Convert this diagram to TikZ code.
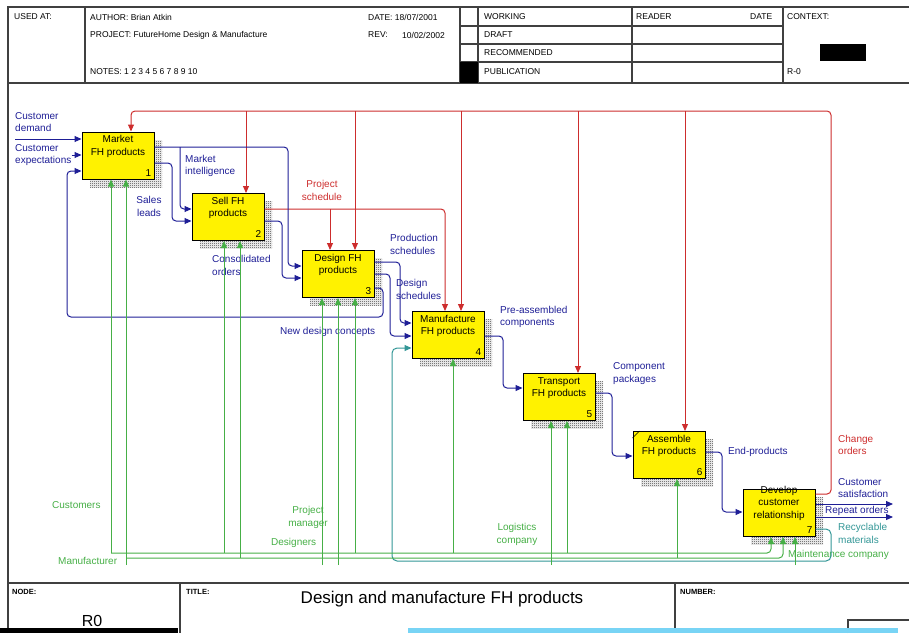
\documentclass[tikz,border=0pt]{standalone}
\usepackage{fontspec}
\setmainfont{Liberation Sans}
\usetikzlibrary{arrows.meta,positioning,patterns,shadows}
\definecolor{idefblue}{RGB}{30,30,150}
\definecolor{idefred}{RGB}{205,45,45}
\definecolor{idefgreen}{RGB}{70,175,70}
\definecolor{idefteal}{RGB}{50,150,150}
\definecolor{barblue}{RGB}{120,212,245}
\newcommand\lblfont{\fontsize{10}{12.5}\selectfont}
\newcommand\hdrfont{\fontsize{8.5}{10}\selectfont}
\pgfdeclarepatternformonly{fnhatch}{\pgfpointorigin}{\pgfpoint{2pt}{2pt}}{\pgfpoint{2pt}{2pt}}{%
  \pgfpathrectangle{\pgfpointorigin}{\pgfpoint{1pt}{1pt}}%
  \pgfpathrectangle{\pgfpoint{1pt}{1pt}}{\pgfpoint{1pt}{1pt}}%
  \pgfusepath{fill}}

\begin{document}
\begin{tikzpicture}[x=1pt,y=-1pt,
  frame/.style={draw=black!75,line width=1.2pt},
  fn/.style={draw,fill=yellow,line width=1pt,minimum width=72pt,minimum height=47pt,inner sep=0pt,
    general shadow={pattern=fnhatch,pattern color=black!80,shadow xshift=8pt,shadow yshift=-8pt}},
  fntxt/.style={align=center,inner sep=1pt,font=\lblfont},
  fnno/.style={inner sep=1pt,font=\lblfont},
  tip/.style={-{Triangle[length=7pt,width=6pt]}},
  flow/.style={tip,draw=idefblue,line width=1pt,rounded corners=4pt},
  ctl/.style={tip,draw=idefred,line width=1pt,rounded corners=4pt},
  mech/.style={tip,draw=idefgreen,line width=1pt,rounded corners=4pt},
  recyc/.style={tip,draw=idefteal,line width=1pt,rounded corners=5pt},
  lbl/.style={font=\lblfont,inner sep=0pt,anchor=west,align=left},
  hdr/.style={font=\hdrfont,inner sep=0pt,anchor=west}]
\useasboundingbox (0,0) rectangle (909,633);

\draw[frame] (8,633) -- (8,7) -- (909,7);
\draw[frame] (8,83) -- (909,83);
\draw[frame] (85,7) -- (85,83);
\draw[frame] (460,7) -- (460,83);
\draw[frame] (478,7) -- (478,83);
\draw[frame] (632,7) -- (632,83);
\draw[frame] (783,7) -- (783,83);
\draw[frame] (460,26) -- (783,26);
\draw[frame] (460,44) -- (783,44);
\draw[frame] (460,62) -- (783,62);
\fill (460,62) rectangle (478,83);
\fill (820,44) rectangle (866,61);
\node[hdr] at (14,17) {USED AT:};
\node[hdr] at (90,17) {AUTHOR: Brian Atkin};
\node[hdr] at (90,35) {PROJECT: FutureHome Design \& Manufacture};
\node[hdr] at (90,72) {NOTES: 1 2 3 4 5 6 7 8 9 10};
\node[hdr] at (368,17) {DATE: 18/07/2001};
\node[hdr] at (368,35) {REV:};
\node[hdr] at (402,35) {10/02/2002};
\node[hdr] at (484,17) {WORKING};
\node[hdr] at (484,35) {DRAFT};
\node[hdr] at (484,53) {RECOMMENDED};
\node[hdr] at (484,72) {PUBLICATION};
\node[hdr] at (636,17) {READER};
\node[hdr] at (750,17) {DATE};
\node[hdr] at (787,17) {CONTEXT:};
\node[hdr] at (787,72) {R-0};

\draw[frame] (8,583) -- (909,583);
\draw[frame] (180,583) -- (180,633);
\draw[frame] (675,583) -- (675,633);
\draw[frame] (848,633) -- (848,620) -- (909,620);
\node[hdr,font=\fontsize{7.5}{9}\selectfont\bfseries] at (12,592) {NODE:};
\node[hdr,font=\fontsize{7.5}{9}\selectfont\bfseries] at (186,592) {TITLE:};
\node[hdr,font=\fontsize{7.5}{9}\selectfont\bfseries] at (680,592) {NUMBER:};
\node[inner sep=0pt,font=\fontsize{16}{18}\selectfont] at (92,621) {R0};
\node[inner sep=0pt,font=\fontsize{17}{20}\selectfont] at (442,599) {Design and manufacture FH products};
\fill (0,628) rectangle (178,633);
\fill[barblue] (408,628) rectangle (898,633);

\node[fn] (mkt) at (118,155.5) {};
\node[fntxt,below=3pt of mkt.north] {Market\\FH products};
\node[fnno,above left=2pt and 2pt of mkt.south east] {1};
\node[fn] (sell) at (228,217) {};
\node[fntxt,below=3pt of sell.north] {Sell FH\\products};
\node[fnno,above left=2pt and 2pt of sell.south east] {2};
\node[fn] (design) at (338,274) {};
\node[fntxt,below=3pt of design.north] {Design FH\\products};
\node[fnno,above left=2pt and 2pt of design.south east] {3};
\node[fn] (manuf) at (448,335) {};
\node[fntxt,below=3pt of manuf.north] {Manufacture\\FH products};
\node[fnno,above left=2pt and 2pt of manuf.south east] {4};
\node[fn] (transp) at (559,397) {};
\node[fntxt,below=3pt of transp.north] {Transport\\FH products};
\node[fnno,above left=2pt and 2pt of transp.south east] {5};
\node[fn] (assem) at (669,455) {};
\node[fntxt,below=3pt of assem.north] {Assemble\\FH products};
\node[fnno,above left=2pt and 2pt of assem.south east] {6};
\draw (assem.north west) ++(0,7) -- ++(7,-7);
\node[fn] (devcr) at (779,513) {};
\node[fntxt,below=-4pt of devcr.north] {Develop\\customer\\relationship};
\node[fnno,above left=2pt and 2pt of devcr.south east] {7};

\node[lbl,text=idefblue] (cdem) at (15,122) {Customer\\demand};
\node[lbl,text=idefblue] (cexp) at (15,155) {Customer\\expectations};
\node[lbl,text=idefblue] at (185,166) {Market\\intelligence};
\node[lbl,text=idefblue,anchor=center,align=center] at (149,206.5) {Sales\\leads};
\node[lbl,text=idefred,anchor=center,align=center] at (322,190.5) {Project\\schedule};
\node[lbl,text=idefblue] at (212,265.5) {Consolidated\\orders};
\node[lbl,text=idefblue] at (390,244.5) {Production\\schedules};
\node[lbl,text=idefblue] at (396,289.5) {Design\\schedules};
\node[lbl,text=idefblue] at (280,332) {New design concepts};
\node[lbl,text=idefblue] at (500,317) {Pre-assembled\\components};
\node[lbl,text=idefblue] at (613,373.5) {Component\\packages};
\node[lbl,text=idefblue] at (728,452) {End-products};
\node[lbl,text=idefred] at (838,445) {Change\\orders};
\node[lbl,text=idefblue] at (838,488) {Customer\\satisfaction};
\node[lbl,text=idefblue] at (825,510.5) {Repeat orders};
\node[lbl,text=idefteal] at (838,533.5) {Recyclable\\materials};
\node[lbl,text=idefgreen] at (788,555) {Maintenance company};
\node[lbl,text=idefgreen,anchor=center,align=center] at (517,534.5) {Logistics\\company};
\node[lbl,text=idefgreen] at (52,505) {Customers};
\node[lbl,text=idefgreen,anchor=center,align=center] at (308,517.5) {Project\\manager};
\node[lbl,text=idefgreen] at (271,543) {Designers};
\node[lbl,text=idefgreen] at (58,561) {Manufacturer};

\coordinate (csat) at (893,504);
\coordinate (rep) at (893,517);
\coordinate (cust) at (111,553);
\coordinate (manu) at (126,565);
\coordinate (pm) at (322,565);
\coordinate (dsg) at (338,565);
\coordinate (logi) at (551,565);
\coordinate (maint) at (795,565);

\draw[ctl] (devcr.east |- 0,494) -- (831,494) -- (831,111) -- (131,111) -- (mkt.north -| 131,0);
\draw[ctl] (246,111) -- (sell.north -| 246,0);
\draw[ctl] (355,111) -- (design.north -| 355,0);
\draw[ctl] (461,111) -- (manuf.north -| 461,0);
\draw[ctl] (578,111) -- (transp.north -| 578,0);
\draw[ctl] (685,111) -- (assem.north -| 685,0);
\draw[ctl] (sell.east |- 0,209) -- (445,209) -- (manuf.north -| 445,0);
\draw[ctl] (330,209) -- (design.north -| 330,0);

\draw[flow] (cdem.west |- 0,139) -- (mkt.west |- 0,139);
\draw[flow] (cexp.east) -- (mkt.west |- cexp.east);
\draw[flow] (design.east |- 0,288) -- (383,288) -- (383,317) -- (67,317) -- (67,171) -- (mkt.west |- 0,171);
\draw[flow] (mkt.east |- 0,147) -- (288,147) -- (288,266) -- (design.west |- 0,266);
\draw[flow] (180,147) -- (180,209) -- (sell.west |- 0,209);
\draw[flow] (mkt.east |- 0,163) -- (172,163) -- (172,221) -- (sell.west |- 0,221);
\draw[flow] (sell.east |- 0,221) -- (282,221) -- (282,278) -- (design.west |- 0,278);
\draw[flow] (design.east |- 0,262) -- (400,262) -- (400,323) -- (manuf.west |- 0,323);
\draw[flow] (design.east |- 0,274) -- (390,274) -- (390,336) -- (manuf.west |- 0,336);
\draw[flow] (manuf.east |- 0,336) -- (503,336) -- (503,388) -- (transp.west |- 0,388);
\draw[flow] (transp.east |- 0,393) -- (612,393) -- (612,456) -- (assem.west |- 0,456);
\draw[flow] (assem.east |- 0,452) -- (722,452) -- (722,512) -- (devcr.west |- 0,512);
\draw[flow] (devcr.east |- csat) -- (csat);
\draw[flow] (devcr.east |- rep) -- (rep);
\draw[recyc] (devcr.east |- 0,529) -- (831,529) -- (831,561) -- (392,561) -- (392,348) -- (manuf.west |- 0,348);

\draw[mech] (cust) -- (mkt.south -| cust);
\draw[mech] (cust) -- (771,553) -- (devcr.south -| 771,0);
\draw[mech] (224,553) -- (sell.south -| 224,0);
\draw[mech] (355,553) -- (design.south -| 355,0);
\draw[mech] (453,553) -- (manuf.south -| 453,0);
\draw[mech] (567,553) -- (transp.south -| 567,0);
\draw[mech] (manu) -- (mkt.south -| manu);
\draw[mech] (126,558) -- (783,558) -- (devcr.south -| 783,0);
\draw[mech] (240,558) -- (sell.south -| 240,0);
\draw[mech] (677,558) -- (assem.south -| 677,0);
\draw[mech] (pm) -- (design.south -| pm);
\draw[mech] (dsg) -- (design.south -| dsg);
\draw[mech] (logi) -- (transp.south -| logi);
\draw[mech] (maint) -- (devcr.south -| maint);
\end{tikzpicture}
\end{document}
